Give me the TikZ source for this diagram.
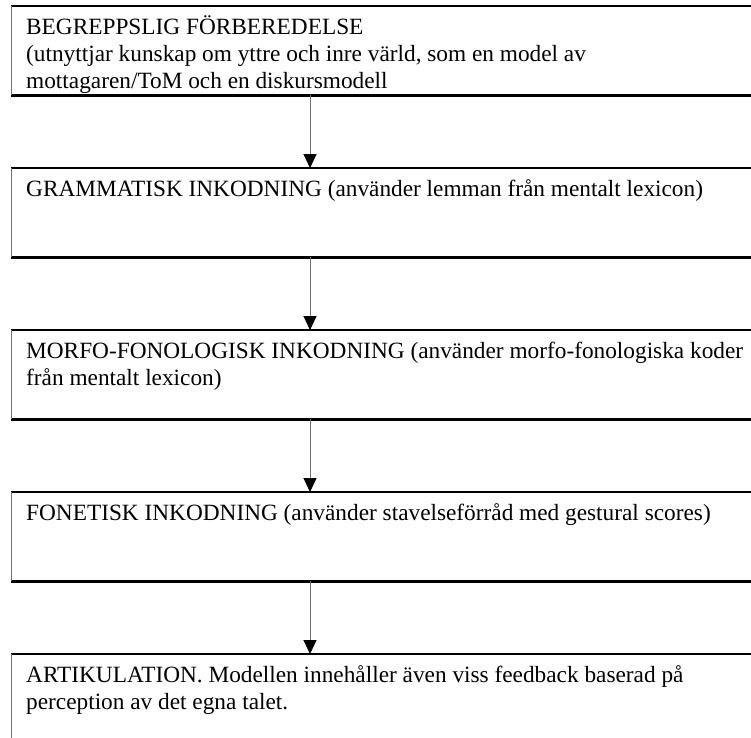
\documentclass[tikz,border=0pt]{standalone}
\usepackage{fontspec}
\setmainfont{Liberation Serif}
\usetikzlibrary{arrows.meta}
\newcommand{\boxfont}{\fontsize{23.3}{27.2}\selectfont}
\tikzset{
  stage/.style={rectangle, draw=none, minimum width=800pt, minimum height=89pt, anchor=north west, inner sep=0pt},
  stagetext/.style={anchor=north west, inner sep=0pt, align=left, font=\boxfont},
  thickedge/.style={line width=2.2pt, black},
  thinedge/.style={line width=1pt, black!55},
  flow/.style={line width=1pt, black!55, -{Triangle[length=14pt, width=13pt, color=black]}}
}
\begin{document}
\begin{tikzpicture}[x=1pt, y=-1pt]
\useasboundingbox (0,0) rectangle (751,737);
\clip (0,0) rectangle (751,737);
\coordinate (ax) at (310,0);
\foreach \n/\t in {b1/6, b2/168, b3/330, b4/492, b5/654} {
  \node[stage] (\n) at (11,\t) {};
  \draw[thickedge] (\n.north west) -- (\n.north east);
  \draw[thickedge] (\n.south west) -- (\n.south east);
  \draw[thinedge] (\n.north west) -- (\n.south west);
}
\node[stagetext] (t1) at ([shift={(15,8.9)}]b1.north west) {\strut BEGREPPSLIG FÖRBEREDELSE\\(utnyttjar kunskap om yttre och inre värld, som en model av\\mottagaren/ToM och en diskursmodell};
\node[stagetext] (t2) at ([shift={(15,8.9)}]b2.north west) {\strut GRAMMATISK INKODNING (använder lemman från mentalt lexicon)};
\node[stagetext] (t3) at ([shift={(15,8.9)}]b3.north west) {\strut MORFO-FONOLOGISK INKODNING (använder morfo-fonologiska koder\\från mentalt lexicon)};
\node[stagetext] (t4) at ([shift={(15,8.9)}]b4.north west) {\strut FONETISK INKODNING (använder stavelseförråd med gestural scores)};
\node[stagetext] (t5) at ([shift={(15,8.9)}]b5.north west) {\strut ARTIKULATION. Modellen innehåller även viss feedback baserad på\\perception av det egna talet.};
\draw[flow] (b1.south -| ax) -- (b2.north -| ax);
\draw[flow] (b2.south -| ax) -- (b3.north -| ax);
\draw[flow] (b3.south -| ax) -- (b4.north -| ax);
\draw[flow] (b4.south -| ax) -- (b5.north -| ax);
\end{tikzpicture}
\end{document}
